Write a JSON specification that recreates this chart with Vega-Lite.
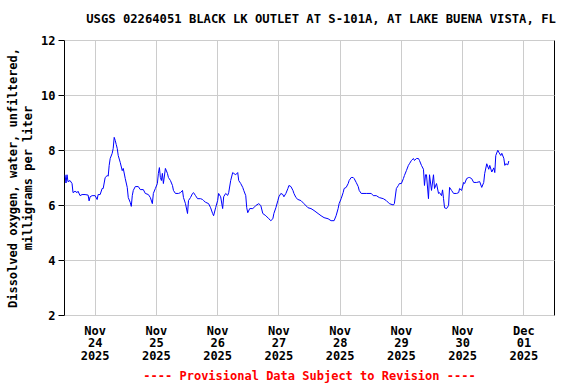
{
"$schema": "https://vega.github.io/schema/vega-lite/v6.json",
"width": 490, "height": 275,
"autosize": "none",
"padding": {"left": 64, "top": 40, "right": 22, "bottom": 69},
"background": "white",
"title": {"text": "USGS 02264051 BLACK LK OUTLET AT S-101A, AT LAKE BUENA VISTA, FL", "font": "DejaVu Sans Mono", "fontSize": 12.2, "fontWeight": "bold", "color": "black", "anchor": "middle", "dx": 12, "offset": 9},
"data": {"values": [
{"time":"2025-11-23T12:24","do":7.1},{"time":"2025-11-23T12:47","do":6.8},{"time":"2025-11-23T13:11","do":7.1},{"time":"2025-11-23T13:34","do":6.85},{"time":"2025-11-23T14:22","do":6.89},{"time":"2025-11-23T15:09","do":6.78},{"time":"2025-11-23T15:32","do":6.45},{"time":"2025-11-23T16:20","do":6.5},{"time":"2025-11-23T17:07","do":6.45},{"time":"2025-11-23T17:30","do":6.5},{"time":"2025-11-23T18:18","do":6.34},{"time":"2025-11-23T19:05","do":6.38},{"time":"2025-11-23T20:16","do":6.38},{"time":"2025-11-23T21:27","do":6.36},{"time":"2025-11-23T21:50","do":6.15},{"time":"2025-11-23T22:14","do":6.3},{"time":"2025-11-23T23:01","do":6.34},
{"time":"2025-11-24T00:12","do":6.34},{"time":"2025-11-24T00:59","do":6.2},{"time":"2025-11-24T01:23","do":6.38},{"time":"2025-11-24T02:10","do":6.38},{"time":"2025-11-24T02:57","do":6.6},{"time":"2025-11-24T03:21","do":6.6},{"time":"2025-11-24T04:08","do":7.0},{"time":"2025-11-24T04:55","do":7.07},{"time":"2025-11-24T05:19","do":7.05},{"time":"2025-11-24T05:42","do":7.44},{"time":"2025-11-24T06:06","do":7.69},{"time":"2025-11-24T06:53","do":7.88},{"time":"2025-11-24T07:17","do":8.06},{"time":"2025-11-24T07:40","do":8.46},{"time":"2025-11-24T08:04","do":8.35},{"time":"2025-11-24T08:28","do":8.2},{"time":"2025-11-24T08:51","do":8.06},{"time":"2025-11-24T09:15","do":7.8},{"time":"2025-11-24T10:02","do":7.55},{"time":"2025-11-24T10:49","do":7.25},{"time":"2025-11-24T11:13","do":7.33},{"time":"2025-11-24T12:00","do":6.96},{"time":"2025-11-24T12:47","do":6.64},{"time":"2025-11-24T13:11","do":6.27},{"time":"2025-11-24T13:58","do":6.09},{"time":"2025-11-24T14:22","do":5.95},{"time":"2025-11-24T14:45","do":6.34},{"time":"2025-11-24T15:09","do":6.53},{"time":"2025-11-24T15:56","do":6.67},{"time":"2025-11-24T17:07","do":6.67},{"time":"2025-11-24T17:54","do":6.56},{"time":"2025-11-24T19:05","do":6.56},{"time":"2025-11-24T19:52","do":6.42},{"time":"2025-11-24T21:03","do":6.38},{"time":"2025-11-24T21:50","do":6.27},{"time":"2025-11-24T22:37","do":6.05},{"time":"2025-11-24T23:01","do":6.42},{"time":"2025-11-24T23:48","do":6.6},
{"time":"2025-11-25T00:35","do":6.78},{"time":"2025-11-25T00:59","do":7.15},{"time":"2025-11-25T01:23","do":7.36},{"time":"2025-11-25T01:46","do":7.0},{"time":"2025-11-25T02:10","do":6.89},{"time":"2025-11-25T02:33","do":7.15},{"time":"2025-11-25T02:57","do":6.78},{"time":"2025-11-25T03:44","do":7.33},{"time":"2025-11-25T04:32","do":7.15},{"time":"2025-11-25T04:55","do":7.0},{"time":"2025-11-25T05:42","do":6.89},{"time":"2025-11-25T06:30","do":6.71},{"time":"2025-11-25T06:53","do":6.53},{"time":"2025-11-25T07:40","do":6.42},{"time":"2025-11-25T08:51","do":6.42},{"time":"2025-11-25T09:38","do":6.45},{"time":"2025-11-25T10:26","do":6.53},{"time":"2025-11-25T10:49","do":6.27},{"time":"2025-11-25T11:36","do":6.05},{"time":"2025-11-25T12:24","do":5.69},{"time":"2025-11-25T12:47","do":6.16},{"time":"2025-11-25T13:34","do":6.27},{"time":"2025-11-25T14:22","do":6.42},{"time":"2025-11-25T14:45","do":6.45},{"time":"2025-11-25T15:33","do":6.34},{"time":"2025-11-25T16:20","do":6.23},{"time":"2025-11-25T17:31","do":6.23},{"time":"2025-11-25T18:18","do":6.2},{"time":"2025-11-25T18:41","do":6.16},{"time":"2025-11-25T19:28","do":6.1},{"time":"2025-11-25T20:39","do":6.05},{"time":"2025-11-25T21:27","do":5.9},{"time":"2025-11-25T22:14","do":5.69},{"time":"2025-11-25T22:37","do":5.61},{"time":"2025-11-25T23:25","do":5.9},
{"time":"2025-11-26T00:12","do":6.16},{"time":"2025-11-26T00:35","do":6.42},{"time":"2025-11-26T01:23","do":6.3},{"time":"2025-11-26T02:10","do":5.87},{"time":"2025-11-26T02:34","do":6.3},{"time":"2025-11-26T03:21","do":6.42},{"time":"2025-11-26T04:08","do":6.35},{"time":"2025-11-26T04:32","do":6.45},{"time":"2025-11-26T05:19","do":6.89},{"time":"2025-11-26T06:06","do":7.18},{"time":"2025-11-26T06:30","do":7.15},{"time":"2025-11-26T07:17","do":7.1},{"time":"2025-11-26T08:04","do":7.18},{"time":"2025-11-26T08:28","do":6.89},{"time":"2025-11-26T09:15","do":6.78},{"time":"2025-11-26T10:02","do":6.64},{"time":"2025-11-26T10:26","do":6.53},{"time":"2025-11-26T11:13","do":6.34},{"time":"2025-11-26T11:36","do":5.9},{"time":"2025-11-26T12:00","do":5.72},{"time":"2025-11-26T12:47","do":5.87},{"time":"2025-11-26T13:58","do":5.87},{"time":"2025-11-26T14:22","do":5.9},{"time":"2025-11-26T15:09","do":5.98},{"time":"2025-11-26T16:20","do":6.05},{"time":"2025-11-26T17:07","do":5.98},{"time":"2025-11-26T17:54","do":5.69},{"time":"2025-11-26T19:05","do":5.61},{"time":"2025-11-26T20:16","do":5.5},{"time":"2025-11-26T21:03","do":5.43},{"time":"2025-11-26T21:50","do":5.5},{"time":"2025-11-26T22:14","do":5.69},{"time":"2025-11-26T23:01","do":5.9},{"time":"2025-11-26T23:48","do":6.16},
{"time":"2025-11-27T00:12","do":6.3},{"time":"2025-11-27T00:59","do":6.42},{"time":"2025-11-27T01:46","do":6.38},{"time":"2025-11-27T02:10","do":6.3},{"time":"2025-11-27T02:57","do":6.42},{"time":"2025-11-27T03:44","do":6.6},{"time":"2025-11-27T04:08","do":6.71},{"time":"2025-11-27T04:55","do":6.67},{"time":"2025-11-27T05:42","do":6.53},{"time":"2025-11-27T06:06","do":6.42},{"time":"2025-11-27T06:53","do":6.27},{"time":"2025-11-27T07:40","do":6.2},{"time":"2025-11-27T08:51","do":6.16},{"time":"2025-11-27T10:02","do":6.05},{"time":"2025-11-27T11:37","do":5.9},{"time":"2025-11-27T12:47","do":5.87},{"time":"2025-11-27T13:58","do":5.8},{"time":"2025-11-27T15:33","do":5.69},{"time":"2025-11-27T16:43","do":5.61},{"time":"2025-11-27T17:54","do":5.54},{"time":"2025-11-27T19:29","do":5.5},{"time":"2025-11-27T20:39","do":5.43},{"time":"2025-11-27T21:50","do":5.43},{"time":"2025-11-27T22:37","do":5.61},{"time":"2025-11-27T23:25","do":5.87},{"time":"2025-11-27T23:48","do":6.05},
{"time":"2025-11-28T00:36","do":6.23},{"time":"2025-11-28T01:23","do":6.45},{"time":"2025-11-28T01:46","do":6.6},{"time":"2025-11-28T02:34","do":6.64},{"time":"2025-11-28T03:21","do":6.78},{"time":"2025-11-28T03:44","do":6.89},{"time":"2025-11-28T04:32","do":7.0},{"time":"2025-11-28T05:19","do":7.0},{"time":"2025-11-28T05:42","do":6.96},{"time":"2025-11-28T06:30","do":6.82},{"time":"2025-11-28T07:17","do":6.67},{"time":"2025-11-28T07:40","do":6.53},{"time":"2025-11-28T08:28","do":6.42},{"time":"2025-11-28T10:26","do":6.42},{"time":"2025-11-28T12:24","do":6.42},{"time":"2025-11-28T13:11","do":6.34},{"time":"2025-11-28T14:22","do":6.34},{"time":"2025-11-28T15:33","do":6.27},{"time":"2025-11-28T17:07","do":6.23},{"time":"2025-11-28T18:18","do":6.16},{"time":"2025-11-28T19:29","do":6.05},{"time":"2025-11-28T21:03","do":6.0},{"time":"2025-11-28T21:27","do":6.05},{"time":"2025-11-28T22:14","do":6.6},{"time":"2025-11-28T23:01","do":6.71},{"time":"2025-11-28T23:25","do":6.78},
{"time":"2025-11-29T00:12","do":6.78},{"time":"2025-11-29T00:59","do":6.96},{"time":"2025-11-29T01:23","do":7.07},{"time":"2025-11-29T02:10","do":7.25},{"time":"2025-11-29T02:57","do":7.44},{"time":"2025-11-29T03:21","do":7.5},{"time":"2025-11-29T04:08","do":7.62},{"time":"2025-11-29T04:56","do":7.69},{"time":"2025-11-29T05:19","do":7.62},{"time":"2025-11-29T06:06","do":7.69},{"time":"2025-11-29T06:53","do":7.69},{"time":"2025-11-29T07:17","do":7.62},{"time":"2025-11-29T08:04","do":7.44},{"time":"2025-11-29T08:51","do":7.3},{"time":"2025-11-29T09:15","do":6.71},{"time":"2025-11-29T09:39","do":7.1},{"time":"2025-11-29T10:02","do":7.1},{"time":"2025-11-29T10:49","do":6.23},{"time":"2025-11-29T11:13","do":7.1},{"time":"2025-11-29T12:00","do":6.53},{"time":"2025-11-29T12:47","do":7.1},{"time":"2025-11-29T13:11","do":6.6},{"time":"2025-11-29T13:58","do":6.78},{"time":"2025-11-29T14:45","do":6.42},{"time":"2025-11-29T15:09","do":6.45},{"time":"2025-11-29T15:56","do":6.34},{"time":"2025-11-29T16:20","do":6.55},{"time":"2025-11-29T16:43","do":6.23},{"time":"2025-11-29T17:07","do":5.9},{"time":"2025-11-29T17:54","do":5.87},{"time":"2025-11-29T18:41","do":5.98},{"time":"2025-11-29T19:05","do":6.64},{"time":"2025-11-29T19:52","do":6.53},{"time":"2025-11-29T20:40","do":6.42},{"time":"2025-11-29T21:50","do":6.42},{"time":"2025-11-29T22:38","do":6.45},{"time":"2025-11-29T23:01","do":6.6},{"time":"2025-11-29T23:48","do":6.53},
{"time":"2025-11-30T00:35","do":6.82},{"time":"2025-11-30T00:59","do":6.78},{"time":"2025-11-30T01:46","do":6.96},{"time":"2025-11-30T02:34","do":7.0},{"time":"2025-11-30T02:57","do":7.0},{"time":"2025-11-30T03:44","do":6.96},{"time":"2025-11-30T04:32","do":6.82},{"time":"2025-11-30T05:43","do":6.82},{"time":"2025-11-30T06:53","do":6.85},{"time":"2025-11-30T07:41","do":6.64},{"time":"2025-11-30T08:28","do":6.82},{"time":"2025-11-30T08:51","do":7.15},{"time":"2025-11-30T09:39","do":7.5},{"time":"2025-11-30T10:26","do":7.3},{"time":"2025-11-30T10:50","do":7.44},{"time":"2025-11-30T11:37","do":7.2},{"time":"2025-11-30T12:24","do":7.35},{"time":"2025-11-30T12:48","do":7.18},{"time":"2025-11-30T13:11","do":7.8},{"time":"2025-11-30T13:58","do":7.99},{"time":"2025-11-30T14:22","do":7.92},{"time":"2025-11-30T15:09","do":7.8},{"time":"2025-11-30T15:33","do":7.88},{"time":"2025-11-30T16:20","do":7.7},{"time":"2025-11-30T16:44","do":7.44},{"time":"2025-11-30T17:07","do":7.5},{"time":"2025-11-30T17:54","do":7.46},{"time":"2025-11-30T18:18","do":7.6}
]},
"mark": {"type": "line", "color": "#0000ff", "strokeWidth": 1, "clip": true},
"encoding": {
  "x": {"field": "time", "type": "temporal",
    "scale": {"domain": [{"year": 2025, "month": 11, "date": 23, "hours": 12}, {"year": 2025, "month": 12, "date": 1, "hours": 12}]},
    "axis": {"title": "---- Provisional Data Subject to Revision ----", "titleColor": "#ff0000", "titleFont": "DejaVu Sans Mono", "titleFontSize": 12, "titleFontWeight": "bold", "titlePadding": 9,
      "values": [{"year": 2025, "month": 11, "date": 24}, {"year": 2025, "month": 11, "date": 25}, {"year": 2025, "month": 11, "date": 26}, {"year": 2025, "month": 11, "date": 27}, {"year": 2025, "month": 11, "date": 28}, {"year": 2025, "month": 11, "date": 29}, {"year": 2025, "month": 11, "date": 30}, {"year": 2025, "month": 12, "date": 1}],
      "labelExpr": "[timeFormat(datum.value, '%b'), timeFormat(datum.value, '%d'), timeFormat(datum.value, '%Y')]",
      "labelLineHeight": 12.5, "labelFont": "DejaVu Sans Mono", "labelFontSize": 12, "labelFontWeight": "bold", "labelColor": "black", "labelPadding": 10, "labelFlush": false, "labelOverlap": false, "labelBound": false,
      "ticks": false, "domain": false, "grid": true, "gridColor": "#cccccc", "gridWidth": 1}
  },
  "y": {"field": "do", "type": "quantitative",
    "scale": {"domain": [2, 12], "nice": false, "zero": false},
    "axis": {"title": ["Dissolved oxygen, water, unfiltered,", "milligrams per liter"], "titleFont": "DejaVu Sans Mono", "titleFontSize": 12, "titleFontWeight": "bold", "titleColor": "black", "titleLineHeight": 15, "titlePadding": 6,
      "values": [2, 4, 6, 8, 10, 12], "labelFont": "DejaVu Sans Mono", "labelFontSize": 12, "labelFontWeight": "bold", "labelColor": "black", "labelPadding": 3, "labelFlush": false, "labelOverlap": false,
      "ticks": true, "tickColor": "black", "tickSize": 6, "domain": false, "grid": true, "gridColor": "#cccccc", "gridWidth": 1}
  }
},
"config": {"view": {"stroke": "black", "strokeWidth": 1}}
}
